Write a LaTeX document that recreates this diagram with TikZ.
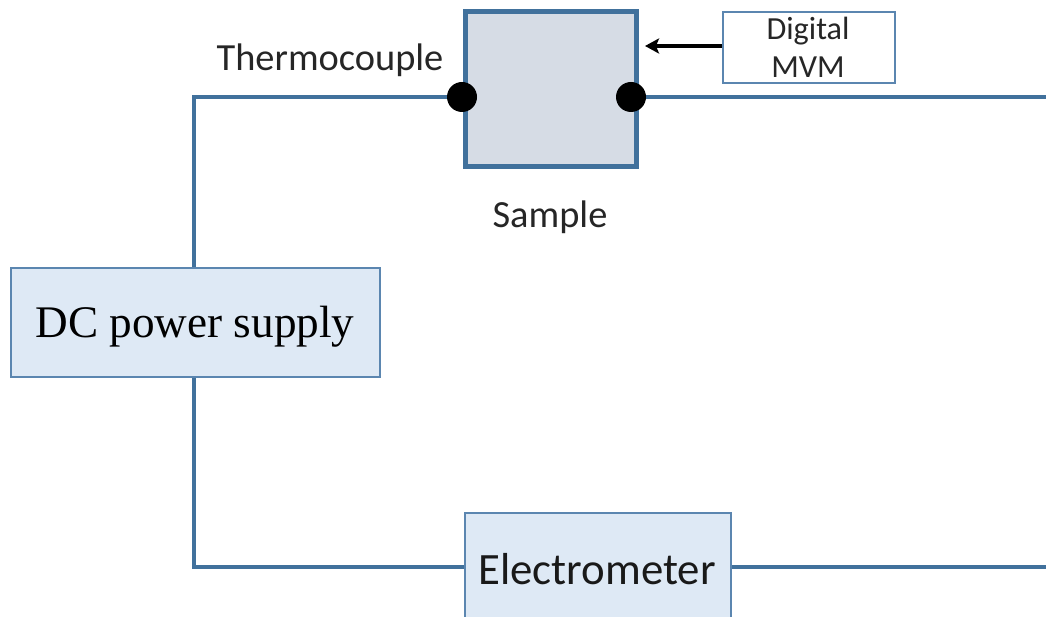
\documentclass[tikz,border=0pt]{standalone}
\usepackage{fontspec}
\setmainfont{Carlito}
\newfontfamily\serifface{Liberation Serif}
\usetikzlibrary{arrows.meta}
\definecolor{wireblue}{HTML}{41719C}
\definecolor{thinblue}{HTML}{5B86B0}
\definecolor{boxfill}{HTML}{DEE9F5}
\definecolor{samplefill}{HTML}{D6DCE5}
\tikzset{
  wire/.style={draw=wireblue,line width=4pt},
  block/.style={draw=thinblue,line width=2.2pt,fill=boxfill,inner sep=0pt,anchor=center},
  dot/.style={circle,fill=black,inner sep=0pt,minimum size=30pt},
  lbl/.style={inner sep=0pt,anchor=center,text=black!85}
}
\begin{document}
\begin{tikzpicture}[x=1pt,y=-1pt]
\useasboundingbox (0,0) rectangle (1046,617);
\clip (0,0) rectangle (1046,617);
\coordinate (wr1) at (1046,97);
\coordinate (wr2) at (1046,567);
\coordinate (cn1) at (194,97);
\coordinate (cn2) at (194,567);
\node[block,minimum width=369pt,minimum height=109pt] (dc) at (195.5,322.5) {};
\node[block,minimum width=266pt,minimum height=108pt] (em) at (598,567) {};
\node[draw=wireblue,line width=5pt,fill=samplefill,minimum width=171pt,minimum height=155pt,inner sep=0pt] (sample) at (550.5,89.5) {};
\node[draw=thinblue,line width=2.2pt,fill=white,minimum width=172pt,minimum height=71pt,inner sep=0pt] (mvm) at (809,47.5) {};
\node[dot] (d1) at (462,97) {};
\node[dot] (d2) at (631,97) {};
\draw[wire] (dc.north -| cn1) -- (cn1) -- (d1);
\draw[wire] (dc.south -| cn2) -- (cn2) -- (em.west |- cn2);
\draw[wire] (d2) -- (wr1);
\draw[wire] (em.east |- wr2) -- (wr2);
\coordinate (tip) at (645,46);
\draw[line width=3.6pt,-{Stealth[length=14pt,width=15pt,inset=3pt]},black] (mvm.west |- tip) -- (tip);
\node[font=\serifface\fontsize{45.2}{45.2}\selectfont,lbl,text=black] (dct) at (195,327) {DC power supply};
\node[font=\fontsize{44.8}{44.8}\selectfont,lbl,text=black!90] (emt) at (597,569) {Electrometer};
\node[font=\fontsize{38.4}{38.4}\selectfont,lbl] (th) at (330,60) {Thermocouple};
\node[font=\fontsize{38.4}{38.4}\selectfont,lbl] (sm) at (550,217) {Sample};
\node[font=\fontsize{32.2}{32.2}\selectfont,lbl] (dg) at (808,31) {Digital};
\node[font=\fontsize{32.2}{32.2}\selectfont,lbl] (mv) at (808,67) {MVM};
\end{tikzpicture}
\end{document}
